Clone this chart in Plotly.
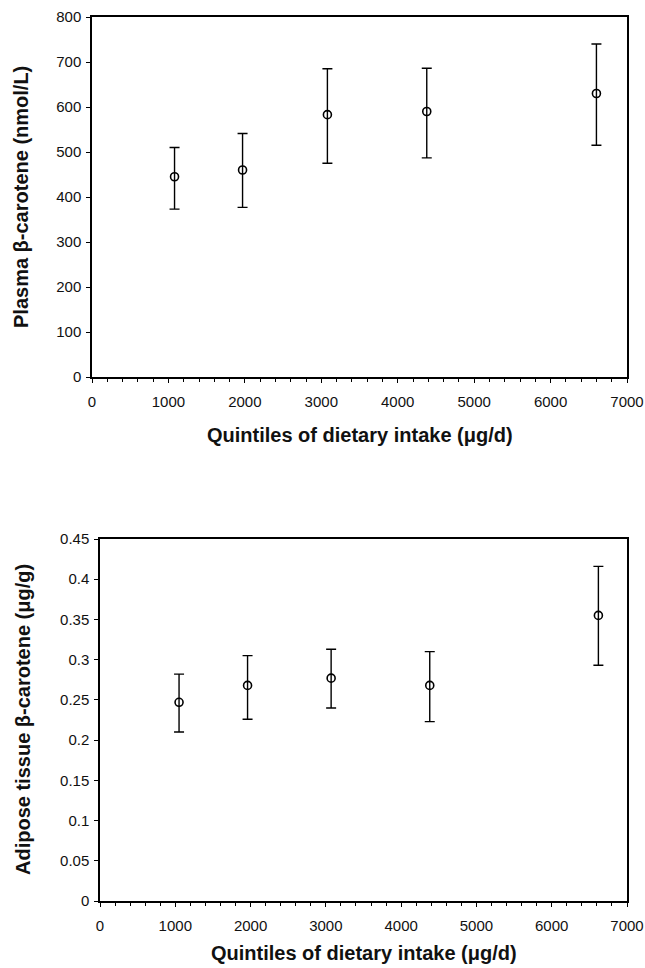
import plotly.graph_objects as go

# Quintile medians of dietary intake (µg/d)
plasma_x = [1080, 1970, 3080, 4380, 6600]
plasma_mean = [445, 460, 583, 590, 630]
plasma_upper = [510, 541, 685, 686, 740]
plasma_lower = [373, 377, 475, 487, 515]

adipose_x = [1050, 1960, 3070, 4380, 6620]
adipose_mean = [0.247, 0.268, 0.277, 0.268, 0.355]
adipose_upper = [0.282, 0.305, 0.313, 0.310, 0.416]
adipose_lower = [0.210, 0.226, 0.240, 0.223, 0.293]

xlabel = "Quintiles of dietary intake (μg/d)"
ylabel_top = "Plasma β-carotene (nmol/L)"
ylabel_bot = "Adipose tissue β-carotene (μg/g)"

W, H = 645, 968
fig = go.Figure()


def px_x(p):
    return p / W


def px_y(p):
    return 1 - p / H


def add_series(x, m, up, lo, xa, ya):
    fig.add_trace(go.Scatter(
        x=x, y=m, mode="markers", xaxis=xa, yaxis=ya,
        marker=dict(symbol="circle-open", size=8, color="black",
                    line=dict(width=1.6, color="black")),
        error_y=dict(type="data", symmetric=False,
                     array=[u - v for u, v in zip(up, m)],
                     arrayminus=[v - l for v, l in zip(m, lo)],
                     color="black", thickness=1.4, width=5),
        showlegend=False))


add_series(plasma_x, plasma_mean, plasma_upper, plasma_lower, "x", "y")
add_series(adipose_x, adipose_mean, adipose_upper, adipose_lower, "x2", "y2")

font_family = "Liberation Sans, Arial, sans-serif"
tickfont = dict(family=font_family, size=15, color="#111")
titlefont = dict(family=font_family, size=20, color="#111", weight="bold")


def xaxis_cfg(domain, anchor):
    return dict(domain=domain, anchor=anchor, range=[0, 7000], dtick=1000, tick0=0,
                showline=True, linecolor="black", linewidth=1.5, mirror=True,
                ticks="outside", ticklen=4, tickwidth=1, tickcolor="black",
                minor=dict(dtick=200, ticks="outside", ticklen=3,
                           tickcolor="black", tickwidth=1),
                ticklabelstandoff=6, ticklabeloverflow="allow",
                showgrid=False, zeroline=False, tickfont=tickfont,
                automargin=False)


def yaxis_cfg(domain, anchor, rng, dtick):
    return dict(domain=domain, anchor=anchor, range=rng, dtick=dtick, tick0=0,
                showline=True, linecolor="black", linewidth=1.5, mirror=True,
                ticks="outside", ticklen=4, tickwidth=1, tickcolor="black",
                ticklabelstandoff=2, ticklabeloverflow="allow",
                showgrid=False, zeroline=False, tickfont=tickfont,
                automargin=False)


top_y = [px_y(377), px_y(17)]
bot_y = [px_y(901), px_y(539)]
top_x = [px_x(92), px_x(627)]
bot_x = [px_x(100), px_x(627)]

annotations = [
    dict(text=ylabel_top, x=px_x(21), y=px_y(197), textangle=-90),
    dict(text=ylabel_bot, x=px_x(23), y=px_y(720), textangle=-90),
    dict(text=xlabel, x=(top_x[0] + top_x[1]) / 2, y=px_y(435)),
    dict(text=xlabel, x=(bot_x[0] + bot_x[1]) / 2, y=px_y(953)),
]
for a in annotations:
    a.update(xref="paper", yref="paper", xanchor="center", yanchor="middle",
             showarrow=False, font=titlefont)

fig.update_layout(
    width=W, height=H,
    margin=dict(l=0, r=0, t=0, b=0),
    paper_bgcolor="white", plot_bgcolor="white",
    xaxis=xaxis_cfg(top_x, "y"),
    yaxis=yaxis_cfg(top_y, "x", [0, 800], 100),
    xaxis2=xaxis_cfg(bot_x, "y2"),
    yaxis2=yaxis_cfg(bot_y, "x2", [0, 0.45], 0.05),
    annotations=annotations,
)

fig.write_html(
    "out.html",
    config={"displayModeBar": False},
    post_script="document.body.style.margin='0';document.body.style.overflow='hidden';",
)
